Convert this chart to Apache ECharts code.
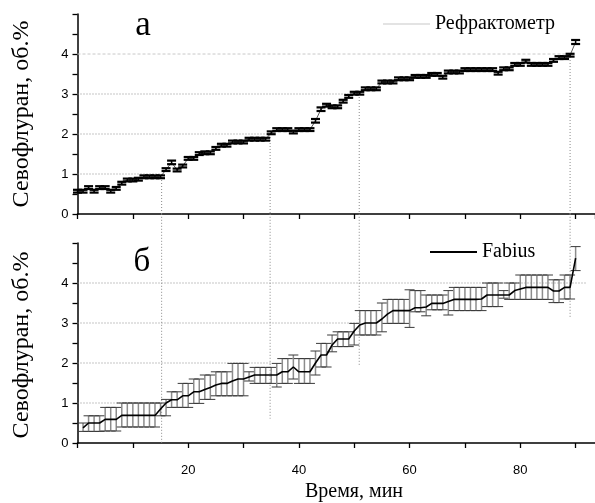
<!DOCTYPE html>
<html><head><meta charset="utf-8">
<script src="https://cdn.jsdelivr.net/npm/echarts@6/dist/echarts.min.js"></script>
<style>html,body{margin:0;padding:0;background:#fff}#c{width:595px;height:503px}</style>
</head><body><div id="c"></div>
<script>
// ---- data ----
const topTime = [0,1,2,3,4,5,6,7,8,9,10,11,12,13,14,15,16,17,18,19,20,21,22,23,24,25,26,27,28,29,30,31,32,33,34,35,36,37,38,39,40,41,42,43,44,45,46,47,48,49,50,51,52,53,54,55,56,57,58,59,60,61,62,63,64,65,66,67,68,69,70,71,72,73,74,75,76,77,78,79,80,81,82,83,84,85,86,87,88,89,90];
const topVal = [0.57,0.57,0.66,0.57,0.66,0.66,0.57,0.64,0.77,0.85,
  0.85,0.87,0.93,0.93,0.93,0.93,1.11,1.29,1.10,1.20,
  1.39,1.39,1.51,1.53,1.53,1.64,1.72,1.72,1.80,1.80,
  1.80,1.87,1.87,1.87,1.87,2.03,2.11,2.11,2.11,2.05,
  2.11,2.11,2.11,2.33,2.62,2.72,2.68,2.68,2.82,2.94,
  3.02,3.02,3.13,3.13,3.13,3.30,3.30,3.30,3.38,3.38,
  3.38,3.44,3.44,3.44,3.49,3.49,3.42,3.55,3.55,3.55,
  3.61,3.61,3.61,3.61,3.61,3.61,3.52,3.63,3.63,3.74,
  3.74,3.82,3.74,3.74,3.74,3.74,3.84,3.91,3.91,3.97,
  4.30];
const topErr = [0.035,0.035,0.035,0.035,0.035,0.035,0.035,0.035,0.035,0.035,
  0.035,0.035,0.035,0.035,0.035,0.035,0.035,0.045,0.035,0.035,
  0.035,0.035,0.035,0.035,0.035,0.035,0.035,0.035,0.035,0.035,
  0.035,0.035,0.035,0.035,0.035,0.035,0.035,0.035,0.035,0.035,
  0.035,0.035,0.035,0.045,0.045,0.035,0.035,0.035,0.035,0.035,
  0.035,0.035,0.035,0.035,0.035,0.035,0.035,0.035,0.035,0.035,
  0.035,0.035,0.035,0.035,0.035,0.035,0.035,0.035,0.035,0.035,
  0.035,0.035,0.035,0.035,0.035,0.035,0.035,0.035,0.035,0.035,
  0.035,0.035,0.035,0.035,0.035,0.035,0.035,0.035,0.035,0.035,
  0.05];

const botTime = [1,2,3,4,5,6,7,8,9,10,11,12,13,14,15,16,17,18,19,20,21,22,23,24,25,26,27,28,29,30,31,32,33,34,35,36,37,38,39,40,41,42,43,44,45,46,47,48,49,50,51,52,53,54,55,56,57,58,59,60,61,62,63,64,65,66,67,68,69,70,71,72,73,74,75,76,77,78,79,80,81,82,83,84,85,86,87,88,89,90];
const botVal = [0.38,0.50,0.50,0.50,0.59,0.59,0.59,0.69,0.69,0.69,
  0.69,0.69,0.69,0.69,0.85,1.00,1.08,1.08,1.18,1.18,
  1.28,1.28,1.34,1.39,1.45,1.49,1.49,1.55,1.60,1.60,
  1.65,1.70,1.70,1.70,1.70,1.70,1.78,1.78,1.90,1.78,
  1.78,1.78,2.00,2.20,2.20,2.45,2.60,2.60,2.60,2.80,
  2.95,3.00,3.00,3.00,3.10,3.22,3.31,3.31,3.31,3.31,
  3.38,3.38,3.40,3.49,3.49,3.49,3.54,3.59,3.59,3.59,
  3.59,3.59,3.60,3.70,3.70,3.70,3.70,3.70,3.81,3.85,
  3.89,3.89,3.89,3.89,3.89,3.80,3.80,3.89,3.89,4.62];
const botLo = [0.29,0.29,0.29,0.29,0.30,0.30,0.30,0.40,0.40,0.40,
  0.40,0.40,0.40,0.40,0.68,0.68,0.89,0.89,0.89,0.89,
  0.99,0.99,1.09,1.09,1.18,1.18,1.18,1.18,1.18,1.18,
  1.55,1.49,1.49,1.49,1.49,1.40,1.49,1.49,1.60,1.49,
  1.49,1.49,1.70,1.90,1.90,2.28,2.41,2.41,2.41,2.45,
  2.70,2.70,2.70,2.70,2.78,2.99,2.99,2.99,2.99,2.89,
  3.28,3.28,3.18,3.33,3.33,3.33,3.20,3.31,3.31,3.31,
  3.31,3.31,3.31,3.41,3.41,3.41,3.62,3.59,3.59,3.59,
  3.59,3.59,3.59,3.59,3.59,3.51,3.51,3.60,3.60,4.31];
const botHi = [0.50,0.68,0.68,0.68,0.89,0.89,0.89,1.00,1.00,1.00,
  1.00,1.00,1.00,1.00,1.00,1.09,1.28,1.28,1.49,1.49,
  1.60,1.60,1.70,1.70,1.78,1.78,1.78,1.99,1.99,1.99,
  1.78,1.89,1.89,1.89,1.89,1.99,2.11,2.11,2.20,2.11,
  2.11,2.11,2.30,2.49,2.49,2.70,2.78,2.78,2.78,2.99,
  3.31,3.31,3.31,3.31,3.50,3.59,3.59,3.59,3.59,3.83,
  3.81,3.81,3.70,3.70,3.70,3.70,3.81,3.89,3.89,3.89,
  3.89,3.89,3.89,4.00,4.00,4.00,3.81,4.00,4.00,4.20,
  4.20,4.20,4.20,4.20,4.20,4.08,4.08,4.20,4.20,4.91];

// reference (guide) lines
const refLevels = [1, 2, 3, 4];
const refTimes = [15.2, 34.8, 50.9, 89.0];
const refBotEnds = [0, 0.61, 1.95, 3.12];
const refBotHEnds = [15.2, 35.0, 50.9, 92.0];
const gapTop = 5.73; // bottom-panel value at the top panel's x-axis

const yTicks = ['0','1','2','3','4'];
const xTickLabels = ['20','40','60','80'];

// ---- build ----
const serif = '"Liberation Serif", "Times New Roman", serif';
const sans = '"Liberation Sans", Arial, sans-serif';

function errRender(capHalf, barColor, capColor, barW, capW) {
  return function (params, api) {
    const x = api.value(0), lo = api.value(1), hi = api.value(2);
    const a = api.coord([x, lo]), b = api.coord([x, hi]);
    return {type: 'group', children: [
      {type: 'line', shape: {x1: a[0], y1: a[1], x2: b[0], y2: b[1]}, style: {stroke: barColor, lineWidth: barW}},
      {type: 'line', shape: {x1: a[0] - capHalf, y1: a[1], x2: a[0] + capHalf, y2: a[1]}, style: {stroke: capColor, lineWidth: capW}},
      {type: 'line', shape: {x1: b[0] - capHalf, y1: b[1], x2: b[0] + capHalf, y2: b[1]}, style: {stroke: capColor, lineWidth: capW}}
    ]};
  };
}

const topLine = topTime.map((t, i) => [t, topVal[i]]);
const topErrData = topTime.map((t, i) => [t, topVal[i] - topErr[i], topVal[i] + topErr[i]]);
const botLine = botTime.map((t, i) => [t, botVal[i]]);
const botErrData = botTime.map((t, i) => [t, botLo[i], botHi[i]]);

const dotted = [1, 2];
const series = [];
refLevels.forEach((lv, k) => {
  const light = k === 3;
  series.push({type: 'line', xAxisIndex: 0, yAxisIndex: 0, silent: true, symbol: 'none', z: 1,
    data: [[0, lv], [refTimes[k], lv]],
    lineStyle: {color: light ? '#c8c8c8' : '#8a8a8a', width: 1, type: light ? [3, 2] : dotted}});
  series.push({type: 'line', xAxisIndex: 0, yAxisIndex: 0, silent: true, symbol: 'none', z: 1,
    data: [[refTimes[k], lv], [refTimes[k], 0]],
    lineStyle: {color: '#8a8a8a', width: 1, type: dotted}});
  series.push({type: 'line', xAxisIndex: 1, yAxisIndex: 1, silent: true, symbol: 'none', z: 1, clip: false,
    data: [[refTimes[k], gapTop], [refTimes[k], refBotEnds[k]]],
    lineStyle: {color: '#8a8a8a', width: 1, type: dotted}});
  series.push({type: 'line', xAxisIndex: 1, yAxisIndex: 1, silent: true, symbol: 'none', z: 1,
    data: [[0, lv], [refBotHEnds[k], lv]],
    lineStyle: {color: '#8a8a8a', width: 1, type: dotted}});
});

series.push({name: 'Рефрактометр', type: 'line', xAxisIndex: 0, yAxisIndex: 0, data: topLine,
  symbol: 'none', lineStyle: {color: '#444', width: 0.9}, itemStyle: {color: '#c8c8c8'}, z: 3});
series.push({type: 'custom', xAxisIndex: 0, yAxisIndex: 0, data: topErrData, silent: true,
  encode: {x: 0, y: [1, 2]}, renderItem: errRender(4.5, '#000', '#000', 1.5, 2.2), z: 4});

series.push({type: 'custom', xAxisIndex: 1, yAxisIndex: 1, data: botErrData, silent: true,
  encode: {x: 0, y: [1, 2]}, renderItem: errRender(5, '#8c8c8c', '#3a3a3a', 1.5, 1), z: 2});
series.push({name: 'Fabius', type: 'line', xAxisIndex: 1, yAxisIndex: 1, data: botLine,
  symbol: 'none', lineStyle: {color: '#000', width: 1.6}, itemStyle: {color: '#000'}, z: 5});

function yAxis(gi) {
  return {type: 'value', gridIndex: gi, min: 0, max: 5, interval: 0.5,
    axisLine: {show: true, lineStyle: {color: '#000', width: 1.5}},
    axisTick: {show: true, inside: false, length: 5, lineStyle: {color: '#000', width: 1.3}},
    splitLine: {show: false},
    axisLabel: {margin: 9, color: '#000', fontFamily: sans, fontSize: 13,
      formatter: v => { const s = String(v); return yTicks.indexOf(s) >= 0 ? s : ''; }}};
}
function xAxis(gi, labels) {
  return {type: 'value', gridIndex: gi, min: 0, max: 93.5, interval: 10,
    axisLine: {show: true, onZero: false, lineStyle: {color: '#000', width: 1.5}},
    axisTick: {show: true, inside: false, length: 5, lineStyle: {color: '#000', width: 1.3}},
    splitLine: {show: false},
    axisLabel: {show: labels, margin: 21, color: '#000', fontFamily: sans, fontSize: 13,
      showMaxLabel: false,
      formatter: v => { const s = String(v); return xTickLabels.indexOf(s) >= 0 ? s : ''; }}};
}

const chart = echarts.init(document.getElementById('c'), null, {renderer: 'canvas'});
chart.setOption({
  animation: false,
  backgroundColor: '#fff',
  grid: [
    {left: 77.5, width: 517.5, top: 14, height: 200},
    {left: 77.5, width: 517.5, top: 243, height: 200}
  ],
  xAxis: [xAxis(0, false), xAxis(1, true)],
  yAxis: [yAxis(0), yAxis(1)],
  legend: [
    {left: 383, top: 14, padding: 0, itemWidth: 47, itemHeight: 1, selectedMode: false,
      textStyle: {fontFamily: serif, fontSize: 20, color: '#000', lineHeight: 20},
      data: [{name: 'Рефрактометр', icon: 'rect', itemStyle: {color: '#c8c8c8'}}]},
    {left: 430, top: 242, padding: 0, itemWidth: 47, itemHeight: 2, selectedMode: false,
      textStyle: {fontFamily: serif, fontSize: 20, color: '#000', lineHeight: 20},
      data: [{name: 'Fabius', icon: 'rect', itemStyle: {color: '#000'}}]}
  ],
  graphic: [
    {type: 'text', x: 143, y: 26, style: {text: 'а', font: '35px ' + serif, fill: '#000', textAlign: 'center', textVerticalAlign: 'middle'}},
    {type: 'text', x: 142, y: 262, style: {text: 'б', font: '33px ' + serif, fill: '#000', textAlign: 'center', textVerticalAlign: 'middle'}},
    {type: 'text', x: 22, y: 114, rotation: Math.PI / 2, style: {text: 'Севофлуран, об.%', font: '24px ' + serif, fill: '#000', textAlign: 'center', textVerticalAlign: 'middle'}},
    {type: 'text', x: 22, y: 345, rotation: Math.PI / 2, style: {text: 'Севофлуран, об.%', font: '24px ' + serif, fill: '#000', textAlign: 'center', textVerticalAlign: 'middle'}},
    {type: 'text', x: 354, y: 492, style: {text: 'Время, мин', font: '20px ' + serif, fill: '#000', textAlign: 'center', textVerticalAlign: 'middle'}}
  ],
  series: series
});
</script></body></html>
